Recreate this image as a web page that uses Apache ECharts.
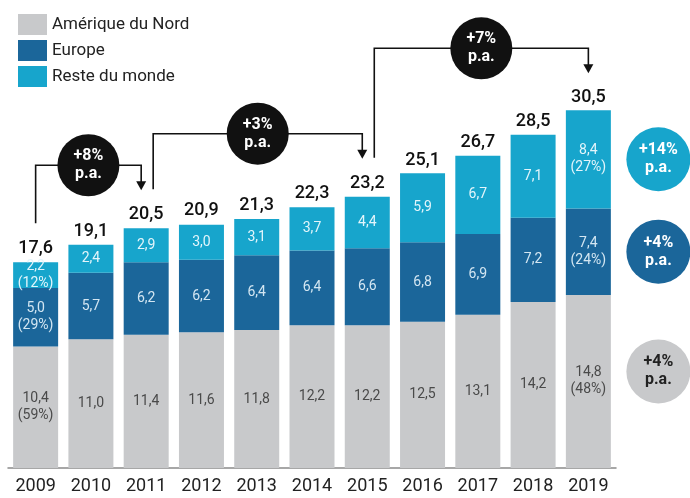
<!DOCTYPE html>
<html>
<head>
<meta charset="utf-8">
<script src="https://cdn.jsdelivr.net/npm/echarts@6/dist/echarts.min.js"></script>
<style>
  html, body { margin: 0; padding: 0; background: #fff; }
  #chart { width: 690px; height: 498px; }
</style>
</head>
<body>
<div id="chart"></div>
<script>
// données (milliards)
const years = ["2009", "2010", "2011", "2012", "2013", "2014", "2015", "2016", "2017", "2018", "2019"];
const amerique = [10.4, 11.0, 11.4, 11.6, 11.8, 12.2, 12.2, 12.5, 13.1, 14.2, 14.8];
const europe = [5.0, 5.7, 6.2, 6.2, 6.4, 6.4, 6.6, 6.8, 6.9, 7.2, 7.4];
const reste = [2.2, 2.4, 2.9, 3.0, 3.1, 3.7, 4.4, 5.9, 6.7, 7.1, 8.4];
const totals = [17.6, 19.1, 20.5, 20.9, 21.3, 22.3, 23.2, 25.1, 26.7, 28.5, 30.5];
// parts affichées en 2009 et 2019
const shareAmerique = ["59%", "", "", "", "", "", "", "", "", "", "48%"];
const shareEurope = ["29%", "", "", "", "", "", "", "", "", "", "24%"];
const shareReste = ["12%", "", "", "", "", "", "", "", "", "", "27%"];
// croissance annuelle entre deux années
const growthSteps = [
  { from: 0, to: 2, text: "+8%" },
  { from: 2, to: 6, text: "+3%" },
  { from: 6, to: 10, text: "+7%" }
];
// croissance par zone 2009-2019 : reste du monde, europe, amérique
const growthZones = ["+14%", "+4%", "+4%"];

const cGrey = "#c8c9cb", cBlue = "#1b669a", cCyan = "#17a5cc";
const font = "Roboto";

function fmt(v) { return v.toFixed(1).replace(".", ","); }
function segLabel(shares) {
  return function (p) {
    let s = fmt(p.value);
    if (shares[p.dataIndex]) s += "\n(" + shares[p.dataIndex] + ")";
    return s;
  };
}

let myChart = echarts.init(document.getElementById("chart"));
let option = {
  animation: false,
  textStyle: { fontFamily: font },
  legend: {
    orient: "vertical",
    left: 18,
    top: 14,
    padding: 0,
    itemWidth: 29,
    itemHeight: 21,
    itemGap: 5,
    selectedMode: false,
    icon: "rect",
    textStyle: { fontSize: 17, color: "#222", fontFamily: font },
    data: ["Amérique du Nord", "Europe", "Reste du monde"]
  },
  grid: { left: 8, right: 74, top: 47, bottom: 30, containLabel: false },
  xAxis: {
    type: "category",
    data: years,
    axisTick: { show: false },
    axisLine: { lineStyle: { color: "#8a8a8a", width: 1.5 } },
    axisLabel: { interval: 0, fontSize: 18, fontWeight: "normal", color: "#222", margin: 9, fontFamily: font }
  },
  yAxis: { type: "value", min: 0, max: 36, show: false, splitLine: { show: false } },
  series: [
    {
      name: "Amérique du Nord", type: "bar", stack: "t", barWidth: 45,
      data: amerique,
      itemStyle: { color: cGrey },
      label: { show: true, position: "inside", color: "#4a4a4a", fontSize: 14, lineHeight: 17, formatter: segLabel(shareAmerique) }
    },
    {
      name: "Europe", type: "bar", stack: "t", barWidth: 45,
      data: europe,
      itemStyle: { color: cBlue },
      label: { show: true, position: "inside", color: "#d3e6f2", fontSize: 14, lineHeight: 17, formatter: segLabel(shareEurope) }
    },
    {
      name: "Reste du monde", type: "bar", stack: "t", barWidth: 45,
      data: reste,
      itemStyle: { color: cCyan },
      label: { show: true, position: "inside", color: "#e3f5fb", fontSize: 14, lineHeight: 17, formatter: segLabel(shareReste) }
    },
    {
      name: "Total", type: "line", data: totals,
      symbol: "circle", symbolSize: 1, showSymbol: true,
      itemStyle: { color: "rgba(0,0,0,0)" },
      lineStyle: { opacity: 0 }, silent: true,
      label: { show: true, position: "top", distance: 4, color: "#111", fontSize: 18, fontWeight: 500, formatter: function (p) { return fmt(p.value); } }
    }
  ]
};
myChart.setOption(option);

// annotations : flèches et pastilles
function px(i, v) { return myChart.convertToPixel({ xAxisIndex: 0, yAxisIndex: 0 }, [i, v]); }
let graphics = [];
let arrivals = growthSteps.map(g => g.to);
let departures = growthSteps.map(g => g.from);
growthSteps.forEach(function (g) {
  let a = px(g.from, totals[g.from]);
  let b = px(g.to, totals[g.to]);
  let x1 = a[0] + (arrivals.indexOf(g.from) >= 0 ? 7 : 0);
  let x2 = b[0] - (departures.indexOf(g.to) >= 0 ? 5 : 0);
  let y1 = a[1] - 39;
  let tip = b[1] - 38;
  let ye = tip - 25;
  graphics.push({
    type: "polyline", z: 10,
    shape: { points: [[x1, y1], [x1, ye], [x2, ye], [x2, tip - 8]] },
    style: { stroke: "#111", lineWidth: 1.6, fill: null }
  });
  graphics.push({
    type: "polygon", z: 10,
    shape: { points: [[x2 - 5, tip - 9], [x2 + 5, tip - 9], [x2, tip]] },
    style: { fill: "#111" }
  });
  let cx = (x1 + x2) / 2;
  graphics.push({ type: "circle", z: 11, shape: { cx: cx, cy: ye, r: 31 }, style: { fill: "#111" } });
  graphics.push({
    type: "text", z: 12, x: cx, y: ye,
    style: { text: g.text + "\np.a.", align: "center", verticalAlign: "middle", fill: "#fff", fontSize: 16, fontWeight: "bold", fontFamily: font, lineHeight: 18 }
  });
});

// pastilles de droite, alignées sur les segments de 2019
let last = years.length - 1;
let mids = [
  amerique[last] + europe[last] + reste[last] / 2,
  amerique[last] + europe[last] / 2,
  amerique[last] / 2
];
let zoneFill = [cCyan, cBlue, cGrey];
let zoneText = ["#fff", "#fff", "#222"];
let xr = px(last, 0)[0] + 70;
mids.forEach(function (m, k) {
  let y = px(last, m)[1] - (k === 2 ? 10 : 0);
  graphics.push({ type: "circle", z: 11, shape: { cx: xr, cy: y, r: 32 }, style: { fill: zoneFill[k] } });
  graphics.push({
    type: "text", z: 12, x: xr, y: y,
    style: { text: growthZones[k] + "\np.a.", align: "center", verticalAlign: "middle", fill: zoneText[k], fontSize: 16, fontWeight: "bold", fontFamily: font, lineHeight: 18 }
  });
});
myChart.setOption({ graphic: graphics });
</script>
</body>
</html>
